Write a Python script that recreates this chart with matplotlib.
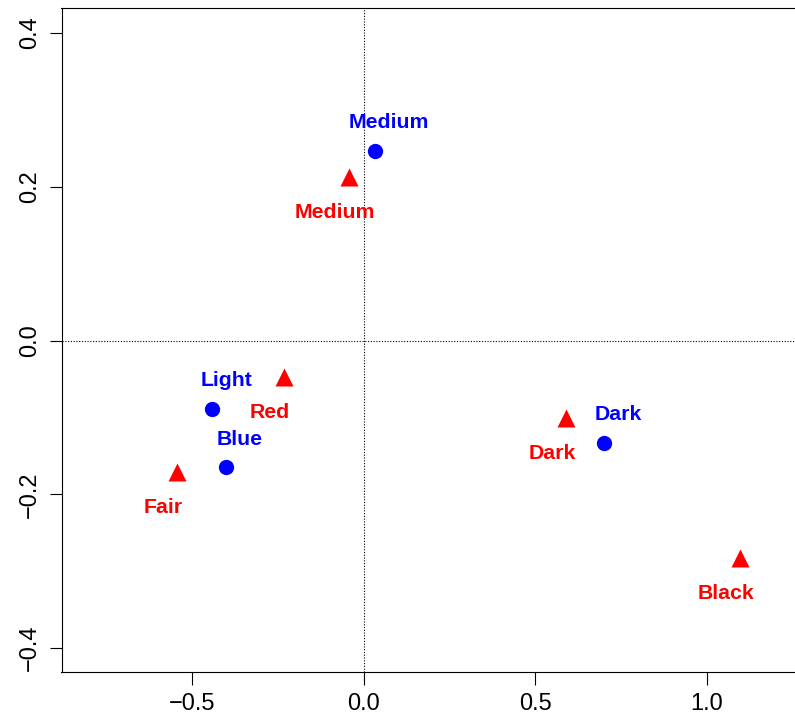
import numpy as np
import matplotlib
matplotlib.use("Agg")
from matplotlib import pyplot as plt

#-----------------------------------------------------------------------------------#
## data: CA coordinates (eye colour = blue, hair colour = red)
eye_labels = ["Medium", "Light", "Blue", "Dark"]
eye_x = [0.033, -0.441, -0.401, 0.700]
eye_y = [0.246, -0.089, -0.165, -0.133]

hair_labels = ["Medium", "Red", "Fair", "Dark", "Black"]
hair_x = [-0.042, -0.232, -0.543, 0.589, 1.096]
hair_y = [0.212, -0.047, -0.171, -0.101, -0.283]

x_ticks = [-0.5, 0.0, 0.5, 1.0]
y_ticks = [-0.4, -0.2, 0.0, 0.2, 0.4]

#-----------------------------------------------------------------------------------#
plt.rcParams['font.family'] = ['Liberation Sans', 'DejaVu Sans']

def fmt(v):
    return ("%.1f" % v).replace("-", "\u2212")

W, H = 795, 726
fig = plt.figure(figsize=(W / 100, H / 100), dpi=100)
ax = fig.add_axes([61.5 / W, (H - 672) / H, (802 - 61.5) / W, (672 - 7.5) / H])

ax.axvline(0, color="black", lw=0.8, ls=(0, (1, 1.5)), zorder=1)
ax.axhline(0, color="black", lw=0.8, ls=(0, (1, 1.5)), zorder=1)

ax.plot(eye_x, eye_y, "o", color="#0000ff", ms=11, mec="none", zorder=3)
ax.plot(hair_x, hair_y, "^", color="#ff0000", ms=12.5, mec="none", zorder=3)

for lab, x, y in zip(eye_labels, eye_x, eye_y):
    ax.annotate(lab, (x, y), xytext=(10, 16.5), textcoords="offset points",
                ha="center", va="baseline", color="#0000ff",
                fontsize=15.3, fontweight="bold")
for lab, x, y in zip(hair_labels, hair_x, hair_y):
    ax.annotate(lab, (x, y), xytext=(-10, -29.5), textcoords="offset points",
                ha="center", va="baseline", color="#ff0000",
                fontsize=15.3, fontweight="bold")

ax.set_xlim(-0.880, (802 - 363.7) / 343.3)
ax.set_ylim(-0.431, 0.433)
ax.set_xticks(x_ticks)
ax.set_xticklabels([fmt(v) for v in x_ticks])
ax.set_yticks(y_ticks)
ax.set_yticklabels([fmt(v) for v in y_ticks], rotation=90, va="center")
ax.tick_params(axis="both", length=9, width=0.8, labelsize=17, pad=6)
for s in ax.spines.values():
    s.set_linewidth(0.8)

fig.savefig("out.png", dpi=100)
